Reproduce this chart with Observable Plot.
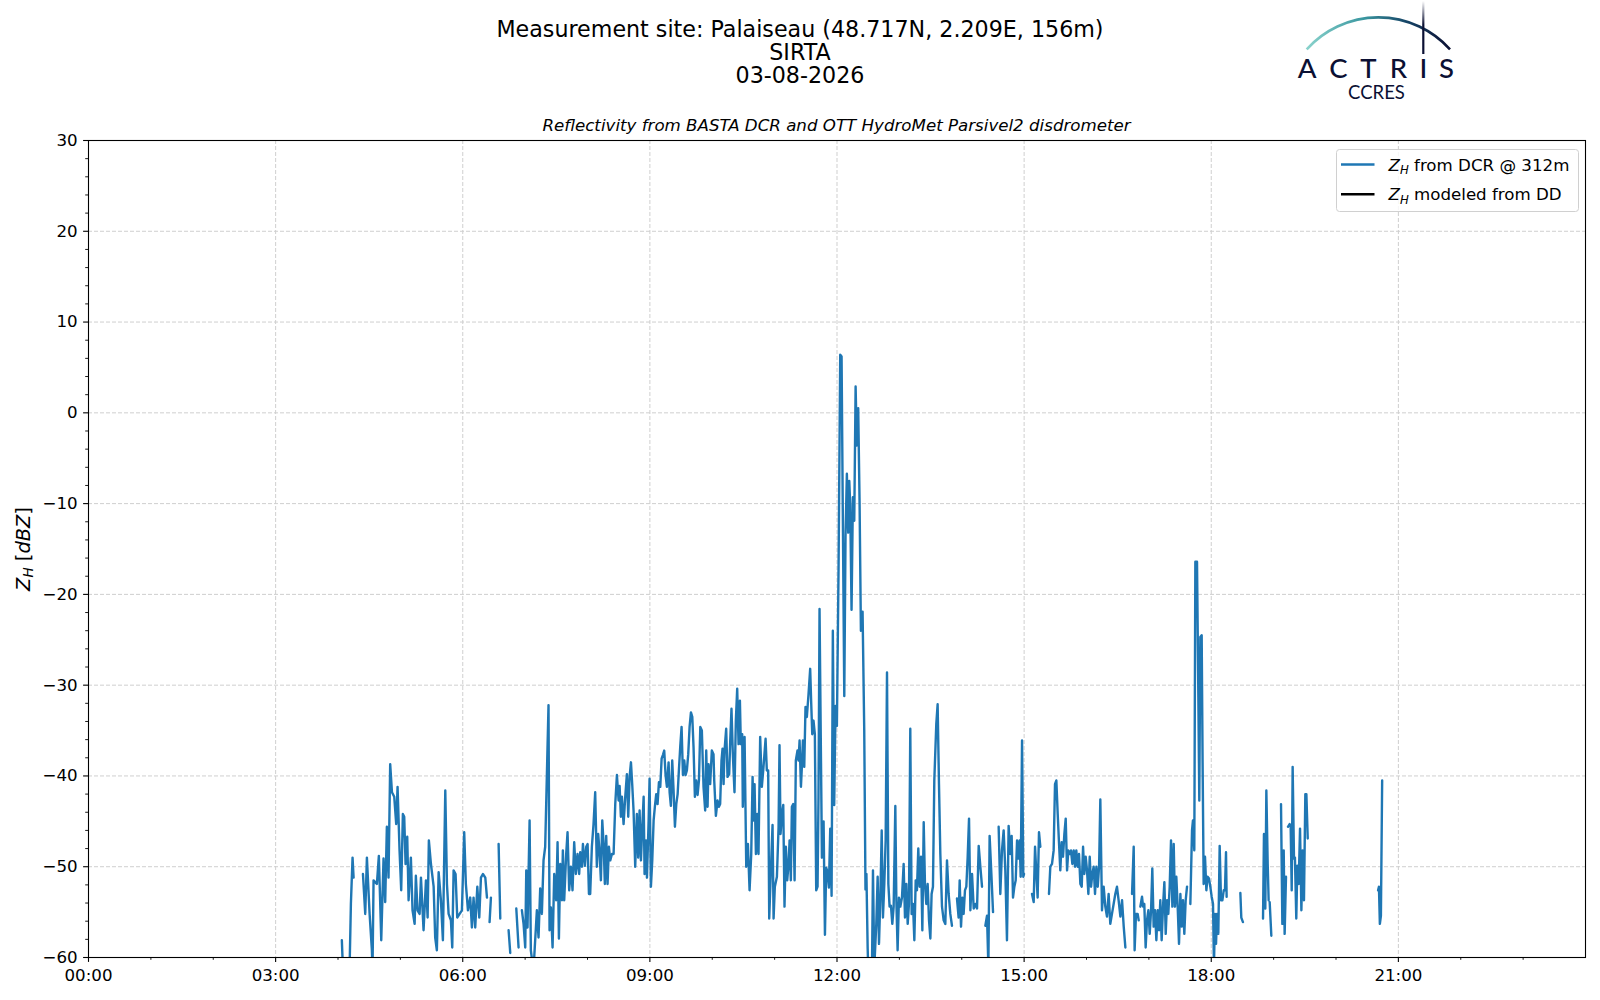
<!DOCTYPE html>
<html>
<head>
<meta charset="utf-8">
<script src="https://cdn.jsdelivr.net/npm/d3@7"></script>
<script src="https://cdn.jsdelivr.net/npm/@observablehq/plot@0.6"></script>
<style>
  html, body { margin: 0; padding: 0; background: white; }
  #wrap { position: relative; width: 1600px; height: 1000px; background: white; }
  #wrap > svg { position: absolute; left: 0; top: 0; }
</style>
</head>
<body>
<div id="wrap"></div>
<script>
// ---------- text ----------
const titleLines = ["Measurement site: Palaiseau (48.717N, 2.209E, 156m)", "SIRTA", "03-08-2026"];
const subtitle = "Reflectivity from BASTA DCR and OTT HydroMet Parsivel2 disdrometer";
const seriesLabels = ["from DCR @ 312m", "modeled from DD"];
const seriesColors = ["#1f77b4", "#000000"];

// ---------- axes ----------
const xMajorTicks = [0, 180, 360, 540, 720, 900, 1080, 1260];            // minutes of day
const xTickLabels = ["00:00", "03:00", "06:00", "09:00", "12:00", "15:00", "18:00", "21:00"];
const xMinorTicks = [60, 120, 240, 300, 420, 480, 600, 660, 780, 840, 960, 1020, 1140, 1200, 1320, 1380];
const yMajorTicks = [-60, -50, -40, -30, -20, -10, 0, 10, 20, 30];
const yMinorTicks = [-58,-56,-54,-52,-48,-46,-44,-42,-38,-36,-34,-32,-28,-26,-24,-22,-18,-16,-14,-12,-8,-6,-4,-2,2,4,6,8,12,14,16,18,22,24,26,28];

// ---------- data: [minute of day, Z_H dBZ]; null = gap ----------
const dcrSamples = [
[243.7,-58.1],[245,-62],[251,-62],[252.4,-54.1],[254,-49],[255,-51.2],null,
[264,-50.8],[266.2,-55.2],[267.8,-49],[270.4,-55.2],[272.6,-59.2],[273.2,-61.5],[274.2,-51.5],[277.4,-51.9],[279.3,-48.8],[281.6,-58.1],[283.8,-49.1],[285.4,-53.9],[287,-45.6],[288.6,-51.2],[290.2,-38.7],[291.9,-41.8],[294.1,-42.3],[296,-45.3],[297.3,-41.2],[299.2,-48.2],[300.8,-52.6],[302.4,-44.2],[303.7,-44.5],[305,-49.7],[306.6,-46.7],[307.9,-53.7],[310.1,-49],[311.7,-54.8],[313.7,-56.3],[314.9,-51],[316.5,-54.8],[318.5,-55.2],[319.8,-51.2],[322.3,-57],[324.6,-51.5],[326.2,-55.6],[327.4,-47.1],[329.4,-49.7],[332,-52.2],[333.5,-57.8],[335.1,-59.2],[336.8,-50.6],[339,-53.7],[340.9,-58.1],[343.2,-41.6],[344.8,-51.9],[346.4,-55.2],[348.6,-55.9],[349.9,-58.9],[351.2,-50.4],[353.1,-50.8],[354.7,-55.6],[357,-55.2],[359.2,-54.8],[361.4,-46.2],[363,-51.9],[365,-54.8],[367.2,-53.4],[368.8,-56.7],[370.4,-53.4],[372,-56.7],[374,-52.2],[375.9,-55.6],[377.5,-51.2],[379.4,-50.8],[381.7,-51.2],[383.3,-53.4],null,
[385.8,-56.1],[387.1,-53.4],null,
[394.5,-47.5],[396.1,-55.7],null,
[404.1,-57],[405.7,-59.5],null,
[411.5,-54.6],[413.7,-58.9],null,
[416.9,-54.8],[418.5,-56.3],[420.1,-58.9],[421.1,-50.4],[422.3,-56.7],[424.3,-44.9],[425.5,-59.2],[428,-61.5],[431.3,-54.8],[432.9,-57.8],[434.5,-52.4],[436.1,-55.2],[437.7,-49.3],[439.3,-47.8],[442.5,-32.2],[443.5,-57],[444.8,-54.5],[446.4,-58.9],[448,-50.8],[449.9,-53.7],[451.2,-47.3],[452.5,-57.9],[453.8,-49.7],[455.4,-53.7],[456.3,-48.2],[457.6,-53.7],[459.5,-48.6],[460.8,-46.2],[462.4,-52.6],[464,-50],[465.6,-52.6],[467.2,-47.3],[468.8,-50.8],[470.4,-48.6],[472,-50.8],[473,-48.4],[474.6,-50],[475.6,-47.5],[477.5,-49.9],[478.8,-47.8],[480.1,-47.5],[481.4,-53],[482.6,-53],[484.2,-47.8],[485.8,-45.3],[487.4,-41.8],[489,-50],[490.3,-46.4],[491.6,-48.4],[492.9,-51.5],[494.2,-44.9],[495.5,-47.5],[496.7,-51.9],[498,-46.6],[499.3,-51.9],[500.6,-47.8],[501.9,-49.3],[503.5,-48.6],[505.1,-48.6],[506.7,-43.1],[508.3,-39.9],[509.9,-42.7],[510.9,-41.1],[512.1,-44.5],[513.1,-42.3],[514.7,-45.3],[516.3,-42.3],[517.9,-39.8],[519.2,-44.5],[520.5,-40.1],[521.8,-38.5],[523,-40.9],[524.3,-43.8],[525.9,-50],[527.5,-44.2],[528.8,-49],[530.1,-43.8],[531.4,-49.3],[532.7,-45.6],[534,-42.3],[534.9,-50.8],[536.2,-47.1],[537.2,-51.2],[538.8,-44.9],[539.7,-40.3],[541,-52.2],[542.3,-49.3],[543.6,-44.9],[544.8,-43.4],[546.1,-42],[547.4,-43.1],[548.7,-40.7],[550,-41.2],[551.3,-38.1],[552.5,-37.7],[553.8,-37.2],[555.1,-39.9],[556.4,-41.2],[558,-38.5],[559,-41.8],[560.2,-43.3],[561.5,-38.3],[562.8,-41.6],[564.1,-45.6],[565.4,-43.1],[566.7,-42],[567.9,-39.4],[569.2,-36.8],[570.5,-34.6],[571.8,-39.9],[573.1,-38.3],[574.3,-39.9],[575.6,-39.4],[576.9,-37.6],[578.2,-34.6],[579.5,-33],[580.8,-33.5],[582,-36.8],[583.3,-42.3],[584.6,-40.5],[585.9,-42.1],[587.2,-40.5],[588.5,-34.6],[590,-35],[591.6,-41.2],[593.2,-43.8],[594.2,-37.2],[595.5,-43.4],[596.4,-38.7],[598,-40.9],[599.6,-37.2],[601.2,-37.6],[601.9,-40.5],[603.5,-44.4],[605.1,-42.7],[606.4,-43.4],[607.6,-43.1],[608.9,-38.3],[609.9,-37],[610.9,-40.9],[611.8,-37.2],[613.4,-34.8],[614.7,-40.1],[616.3,-39.8],[617.3,-36.1],[618.5,-32.6],[619.8,-37.6],[621.4,-41.8],[622.7,-33.9],[624,-30.4],[625.3,-36.5],[626.6,-31.7],[627.5,-36.5],[628.8,-35.4],[629.4,-43.4],[631.1,-35.7],[632.7,-50],[634.3,-47.5],[635.9,-52.6],[637.5,-48.6],[638.8,-40.1],[639.7,-44.9],[640.7,-40.9],[642,-48.6],[643.2,-44.2],[644.5,-48.6],[646.1,-35.7],[647.7,-41.2],[649.3,-39],[651.3,-35.9],[652.5,-39.4],[653.8,-39.4],[654.8,-55.7],[656.4,-50.4],[658,-45.4],[659,-55.7],[660.2,-52.2],[662.2,-51.1],[663.8,-45.6],[664.7,-36.6],[665.7,-46.4],[667,-44.2],[668.3,-43.2],[669.5,-54.4],[670.8,-47.8],[672.1,-51.5],[673.4,-49.7],[674.4,-47.1],[675.6,-51.5],[676.6,-43.4],[677.9,-43.1],[679.2,-51.5],[680.4,-38.3],[682,-37.2],[683,-38.3],[684,-36.1],[685.3,-41.2],[686.2,-39],[687.2,-36.1],[688.5,-39],[689.7,-32.4],[691,-33.5],[692.6,-31],[694.2,-28.2],[695.2,-32],[696.2,-35.4],[697.4,-33.9],[698.7,-35.4],[700,-52.6],[701.3,-52.2],[702.2,-42.3],[703.2,-21.6],[705.5,-49],[707.1,-45],[708.4,-57.5],[709.6,-50.1],[710.9,-50.6],[712.2,-52.3],[713.5,-45.8],[714.8,-53.2],[716,-24],[717.3,-43.2],[718.6,-32.3],[719.9,-34.5],[721.5,-17.1],[723.1,6.4],[724.4,6.2],[725.7,-12.7],[727,-31.2],[728.2,-13.6],[729.5,-6.7],[730.8,-13.2],[731.8,-7.5],[732.7,-10.1],[734,-21.7],[735.3,-9.3],[736.6,-11.9],[737.9,2.9],[739.1,-3.6],[740.4,0.5],[741.7,-9.7],[743,-24],[744.6,-21.9],[746.2,-34.9],[747.4,-52.5],[748.3,-50.8],[749.5,-59],[750.5,-63],[753.5,-63],[754.6,-50.4],[755.9,-61],[757.8,-56.3],[759.1,-51.1],[760.4,-58.5],[761.7,-53.4],[763,-46],[764.2,-55.6],[765.5,-51.9],[766.8,-47.1],[768.1,-28.6],[769.4,-51.9],[770.6,-54.4],[771.9,-54.3],[773.2,-56.3],[774.5,-54.4],[776.1,-43.3],[777.1,-53.7],[778.3,-59.2],[779.6,-53.4],[780.9,-54.4],[782.5,-53.4],[784.1,-49.7],[785.4,-55.6],[786.7,-51.9],[788,-56.3],[789.2,-54.1],[790.5,-34.8],[791.8,-55.2],[793.1,-54.1],[794.4,-58.1],[795.7,-51.5],[796.9,-52.6],[798.2,-48],[799.5,-52.2],[800.8,-48.9],[802.1,-57],[803.4,-45.1],[804.6,-51.9],[805.9,-54.1],[807.2,-51.9],[808.5,-55.9],[809.8,-57.9],[811,-53],[812.3,-52.2],[813.6,-40.5],[815.5,-34.3],[816.8,-32.1],[818.1,-40.9],[819.4,-48.6],[821,-54.4],[822.6,-55.9],[824.2,-56.3],[825.8,-49.3],[827.4,-53],[829,-55.2],[830.6,-56.5],null,
[835.4,-53.5],[837,-55.6],[838,-51.5],[839.3,-56.6],[840.6,-53.4],[841.8,-55.2],[843.1,-52.6],[844.4,-52.2],[845.7,-48.9],[847,-44.7],[848.3,-54.8],[849.9,-50.8],[851.5,-54.6],[853.1,-54.1],[854.7,-54.6],[856.3,-47.7],[857.9,-50],[859.5,-52.2],null,
[862.7,-56.5],[864.3,-55.4],[865.6,-61],[866.8,-46.6],[868.5,-50.8],[870.1,-55],null,
[875.5,-45.6],[877.1,-53],[878.7,-48.2],[880.3,-46],[881.9,-50.4],[883.5,-58.1],[885.1,-45.5],[886.7,-48.6],[888,-46.6],[889.3,-53.4],[890.6,-52.2],[891.9,-51.5],[893.2,-47.1],[894.4,-49.1],[895.7,-47.1],[896.7,-51.1],[898,-36.1],[899.2,-51.1],[899.9,-50.8],null,
[907.6,-53],[909.2,-53.9],[910.5,-47.8],[911.8,-50.8],[913,-53.4],[914.3,-46.2],[915.6,-47.8],null,
[923.9,-53],[925.2,-50],[926.8,-49.7],[928.4,-48.2],[929.7,-40.9],[931,-40.5],[932.3,-44.2],[933.6,-47.5],[934.8,-50.4],[936.1,-47.3],[937.4,-48.9],[938.7,-46.4],[940,-44.7],[941.3,-50.4],[942.5,-48.2],[943.8,-48.6],[945.1,-48.2],[946.4,-49.7],[947.7,-48.2],[949,-50],[950.2,-48.2],[951.5,-50],[952.8,-48.6],[954.1,-51.9],[955.4,-52.2],[956.7,-47.8],[957.9,-50.8],[959.2,-48.9],[960.5,-50.4],[961.8,-53],[963.1,-48.9],[964.4,-52.2],[965.6,-50.8],[966.9,-50],[968.2,-53],[969.5,-50],[970.8,-52.2],[972.1,-50],[973.3,-42.6],[974.9,-54.8],[976.5,-52.2],[978.1,-54.4],[979.7,-55.5],[981.3,-53],[982.9,-56.3],[984.5,-55.2],[986.1,-54.1],[987.7,-53],[989.3,-52.2],[990.9,-53.7],[992.6,-55.5],[994.2,-53.7],[995.8,-56.6],[997.4,-58.9],null,
[1003.8,-53],[1005.4,-47.8],[1006.3,-59.2],[1007.6,-55.2],[1009.2,-55.2],[1010.2,-55.9],null,
[1011.8,-54.4],[1013.4,-53.3],[1014.4,-54.4],[1015.6,-54.1],[1016.9,-58.9],[1018.2,-55.9],[1019.5,-54.8],[1020.8,-57.4],[1022.1,-54.8],[1023.3,-50.2],[1024.6,-56.6],[1025.9,-54.8],[1027.2,-58.1],[1028.5,-54.8],[1029.8,-57],[1031,-53.7],[1032.3,-58.1],[1033.6,-54.4],[1034.9,-51.7],[1036.2,-57.4],[1037.5,-53.7],[1038.7,-55.2],[1040,-52.2],[1041.3,-47.1],[1042.6,-54.4],[1043.9,-47.5],[1045.1,-54.4],[1046.4,-51.1],[1047.7,-54.4],[1049,-58.5],[1050.3,-53],[1051.6,-56.6],[1052.8,-53.7],[1054.1,-57.4],[1055.4,-53.7],[1056.7,-52.2],null,
[1059.9,-54.1],[1061.5,-46],[1062.4,-44.9],[1063.7,-48.2],[1064.7,-16.4],[1066.3,-16.4],[1067.6,-31.3],[1068.5,-42.7],[1069.5,-24.7],[1070.8,-24.5],[1071.7,-38.7],[1072.7,-51.9],[1074,-48.9],[1075.3,-52.6],[1076.5,-51.1],[1077.8,-51.3],[1079.1,-52.2],[1080.4,-53.3],[1081.7,-54.1],[1082.6,-61],[1083.6,-55.2],[1084.6,-58.5],[1085.5,-55.2],[1086.8,-57.4],[1088.1,-47.7],[1089.4,-53.7],[1090.7,-53.7],[1092,-52.6],[1093.2,-52.6],[1094.2,-48.4],[1094.8,-53.3],null,
[1108,-52.9],[1108.9,-55.6],[1110.5,-56.1],null,
[1129.8,-55.7],[1130.7,-46.4],[1132,-54.6],[1133,-41.6],[1134.3,-49.7],[1135.2,-53.7],null,
[1136.2,-53.9],[1137.8,-57.6],null,
[1147.1,-43.1],[1148.4,-56.3],[1149.7,-48.2],[1150.6,-57.4],[1151.9,-51.1],null,
[1153.8,-45.6],[1155.4,-45.3],[1156.4,-45.6],[1157.4,-52.6],[1158.3,-39],[1159.6,-49.1],[1160.5,-49],[1161.8,-55.7],[1162.8,-49.9],[1164.1,-51.9],[1165.4,-45.8],[1166.7,-54.8],[1167.9,-48.2],[1169.2,-53.7],[1170.5,-42],[1171.5,-42],[1172.8,-46.9],null,
[1240.5,-52.6],[1241.3,-52.2],[1242.2,-56.3],[1243.2,-55.4],[1244.4,-40.5]
];
const ddSamples = []; // modeled Z_H from disdrometer: no values on this day

// ---------- build ----------
const dcrRows = dcrSamples.map(p => p ? {t: p[0], z: p[1]} : {t: null, z: null});
const ddRows = ddSamples.map(p => p ? {t: p[0], z: p[1]} : {t: null, z: null});
const fmtY = d => d < 0 ? "\u2212" + (-d) : String(d);

const chart = Plot.plot({
  width: 1600,
  height: 1000,
  marginLeft: 88,
  marginRight: 15,
  marginTop: 140,
  marginBottom: 43,
  style: {fontFamily: "DejaVu Sans", fontSize: "16.67px", color: "black", background: "transparent", overflow: "visible"},
  x: {domain: [0, 1440], label: null},
  y: {domain: [-60, 30], label: null},
  marks: [
    Plot.gridX(xMajorTicks, {stroke: "#cfcfcf", strokeOpacity: 1, strokeWidth: 1, strokeDasharray: "4,2"}),
    Plot.gridY(yMajorTicks, {stroke: "#cfcfcf", strokeOpacity: 1, strokeWidth: 1, strokeDasharray: "4,2"}),
    Plot.line(ddRows, {x: "t", y: "z", stroke: seriesColors[1], strokeWidth: 2.4, clip: true}),
    Plot.line(dcrRows, {x: "t", y: "z", stroke: seriesColors[0], strokeWidth: 2.4, strokeLinejoin: "round", clip: true}),
    Plot.frame({stroke: "black", strokeWidth: 1.1}),
    Plot.axisX(xMinorTicks, {tickSize: 2.8, tickFormat: () => "", strokeWidth: 0.9}),
    Plot.axisX(xMajorTicks, {tickSize: 4.9, tickPadding: 6.5, strokeWidth: 1.1, tickFormat: d => xTickLabels[xMajorTicks.indexOf(d)]}),
    Plot.axisY(yMinorTicks, {tickSize: 2.8, tickFormat: () => "", strokeWidth: 0.9}),
    Plot.axisY(yMajorTicks, {tickSize: 4.9, tickPadding: 6, strokeWidth: 1.1, tickFormat: fmtY})
  ]
});

const wrap = document.getElementById("wrap");
wrap.appendChild(chart);

// ---------- overlay: titles, y label, legend, logo ----------
const NS = "http://www.w3.org/2000/svg";
const ov = document.createElementNS(NS, "svg");
ov.setAttribute("width", 1600);
ov.setAttribute("height", 1000);
ov.setAttribute("font-family", "DejaVu Sans");
ov.style.pointerEvents = "none";
wrap.appendChild(ov);

function el(tag, attrs, parent = ov) {
  const e = document.createElementNS(NS, tag);
  for (const k in attrs) e.setAttribute(k, attrs[k]);
  parent.appendChild(e);
  return e;
}
function tspan(parent, text, attrs = {}) {
  const t = el("tspan", attrs, parent);
  t.textContent = text;
  return t;
}

// suptitle
const titleBaselines = [36.6, 59.8, 83.2];
titleLines.forEach((s, i) => {
  const t = el("text", {x: 800, y: titleBaselines[i], "text-anchor": "middle", "font-size": 22.2, fill: "black"});
  t.textContent = s;
});
// axes title
{
  const t = el("text", {x: 836.5, y: 131.2, "text-anchor": "middle", "font-size": 16.67, "font-style": "italic", fill: "black"});
  t.textContent = subtitle;
}
// y label
{
  const t = el("text", {transform: "translate(29.5,549) rotate(-90)", "text-anchor": "middle", "font-size": 19.4, fill: "black"});
  tspan(t, "Z", {"font-style": "italic"});
  tspan(t, "H", {"font-style": "italic", "font-size": 13.6, dy: 3.6});
  tspan(t, " [", {dy: -3.6});
  tspan(t, "dBZ", {"font-style": "italic"});
  tspan(t, "]");
}
// legend
el("rect", {x: 1336.5, y: 149.5, width: 242, height: 62, rx: 3, fill: "white", "fill-opacity": 0.8, stroke: "#d0d0d0", "stroke-width": 1});
seriesLabels.forEach((s, i) => {
  const cy = 164.5 + i * 29.8;
  el("line", {x1: 1341, x2: 1374.5, y1: cy, y2: cy, stroke: seriesColors[i], "stroke-width": 2.4});
  const t = el("text", {x: 1388.5, y: cy + 6, "font-size": 16.67, fill: "black"});
  tspan(t, "Z", {"font-style": "italic"});
  tspan(t, "H", {"font-style": "italic", "font-size": 11.7, dy: 3.2});
  tspan(t, " " + s, {dy: -3.2});
});
// logo
{
  const defs = el("defs", {});
  const g1 = el("linearGradient", {id: "arcGrad", gradientUnits: "userSpaceOnUse", x1: 1306, y1: 0, x2: 1450, y2: 0}, defs);
  el("stop", {offset: 0, "stop-color": "#8ad3cc"}, g1);
  el("stop", {offset: 0.4, "stop-color": "#3a97a0"}, g1);
  el("stop", {offset: 0.7, "stop-color": "#164466"}, g1);
  el("stop", {offset: 1, "stop-color": "#0b1033"}, g1);
  const g2 = el("linearGradient", {id: "mastGrad", gradientUnits: "userSpaceOnUse", x1: 0, y1: 1, x2: 0, y2: 54}, defs);
  el("stop", {offset: 0, "stop-color": "#0b1033", "stop-opacity": 0}, g2);
  el("stop", {offset: 0.45, "stop-color": "#0b1033", "stop-opacity": 1}, g2);
  el("stop", {offset: 1, "stop-color": "#0b1033", "stop-opacity": 1}, g2);
  el("path", {d: "M1306.7,49.3 A96.3,96.3 0 0 1 1450,49.3", fill: "none", stroke: "url(#arcGrad)", "stroke-width": 2.6});
  el("line", {x1: 1423.3, x2: 1423.3, y1: 1, y2: 54, stroke: "url(#mastGrad)", "stroke-width": 2.2});
  const letters = ["A", "C", "T", "R", "I", "S"];
  const lx = [1307, 1338.5, 1368.5, 1398.5, 1423.5, 1446.5];
  letters.forEach((c, i) => {
    const t = el("text", {x: lx[i], y: 78, "text-anchor": "middle", "font-family": "Lato", "font-size": 27.5, "font-weight": 500, fill: "#0b1033"});
    t.textContent = c;
  });
  const cc = el("text", {x: 1376.5, y: 99, "text-anchor": "middle", "font-family": "Lato", "font-size": 18.5, fill: "#0b1033"});
  cc.textContent = "CCRES";
}
</script>
</body>
</html>
